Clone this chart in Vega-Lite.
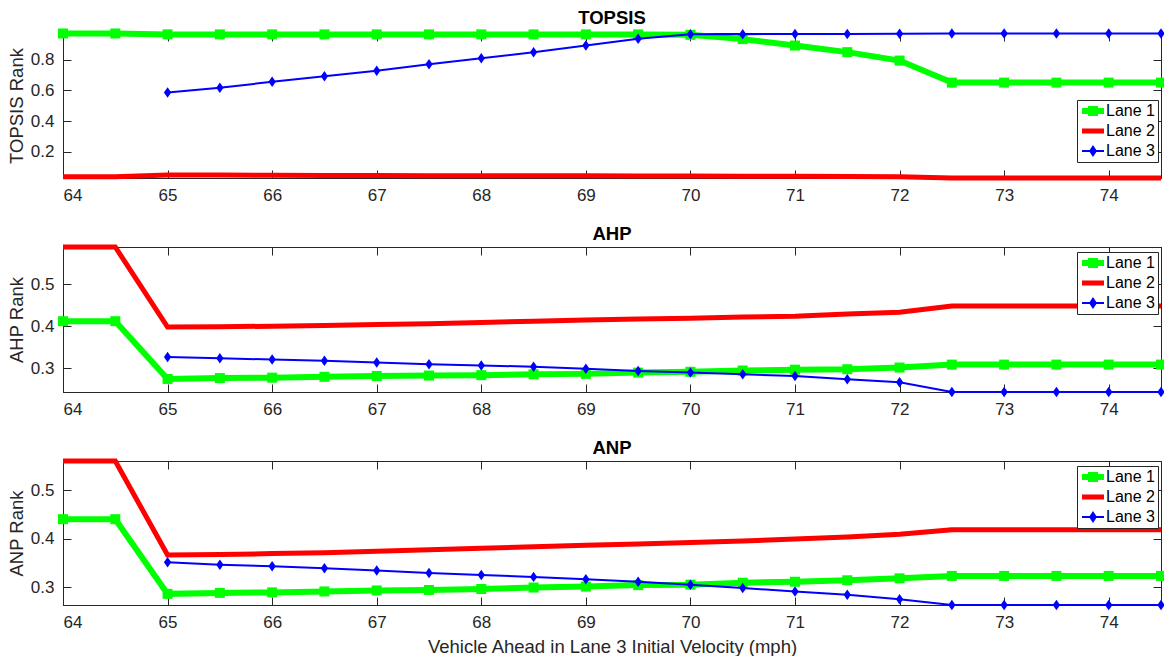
{
  "$schema": "https://vega.github.io/schema/vega-lite/v6.json",
  "background": "white",
  "padding": {"left": 6, "top": 8, "right": 0, "bottom": 0},
  "datasets": {
    "topsis": [
      {"v":64,"lane":"Lane 1","r":0.972},{"v":64.5,"lane":"Lane 1","r":0.972},{"v":65,"lane":"Lane 1","r":0.966},{"v":65.5,"lane":"Lane 1","r":0.966},{"v":66,"lane":"Lane 1","r":0.966},{"v":66.5,"lane":"Lane 1","r":0.966},{"v":67,"lane":"Lane 1","r":0.966},{"v":67.5,"lane":"Lane 1","r":0.966},{"v":68,"lane":"Lane 1","r":0.966},{"v":68.5,"lane":"Lane 1","r":0.966},{"v":69,"lane":"Lane 1","r":0.966},{"v":69.5,"lane":"Lane 1","r":0.966},{"v":70,"lane":"Lane 1","r":0.963},{"v":70.5,"lane":"Lane 1","r":0.935},{"v":71,"lane":"Lane 1","r":0.893},{"v":71.5,"lane":"Lane 1","r":0.85},{"v":72,"lane":"Lane 1","r":0.795},{"v":72.5,"lane":"Lane 1","r":0.651},{"v":73,"lane":"Lane 1","r":0.651},{"v":73.5,"lane":"Lane 1","r":0.651},{"v":74,"lane":"Lane 1","r":0.651},{"v":74.5,"lane":"Lane 1","r":0.651},
      {"v":64,"lane":"Lane 2","r":0.036},{"v":64.5,"lane":"Lane 2","r":0.036},{"v":65,"lane":"Lane 2","r":0.048},{"v":65.5,"lane":"Lane 2","r":0.047},{"v":66,"lane":"Lane 2","r":0.046},{"v":66.5,"lane":"Lane 2","r":0.045},{"v":67,"lane":"Lane 2","r":0.044},{"v":67.5,"lane":"Lane 2","r":0.043},{"v":68,"lane":"Lane 2","r":0.043},{"v":68.5,"lane":"Lane 2","r":0.042},{"v":69,"lane":"Lane 2","r":0.042},{"v":69.5,"lane":"Lane 2","r":0.041},{"v":70,"lane":"Lane 2","r":0.041},{"v":70.5,"lane":"Lane 2","r":0.04},{"v":71,"lane":"Lane 2","r":0.039},{"v":71.5,"lane":"Lane 2","r":0.038},{"v":72,"lane":"Lane 2","r":0.036},{"v":72.5,"lane":"Lane 2","r":0.028},{"v":73,"lane":"Lane 2","r":0.028},{"v":73.5,"lane":"Lane 2","r":0.028},{"v":74,"lane":"Lane 2","r":0.028},{"v":74.5,"lane":"Lane 2","r":0.028},
      {"v":65,"lane":"Lane 3","r":0.586},{"v":65.5,"lane":"Lane 3","r":0.618},{"v":66,"lane":"Lane 3","r":0.656},{"v":66.5,"lane":"Lane 3","r":0.693},{"v":67,"lane":"Lane 3","r":0.729},{"v":67.5,"lane":"Lane 3","r":0.771},{"v":68,"lane":"Lane 3","r":0.81},{"v":68.5,"lane":"Lane 3","r":0.85},{"v":69,"lane":"Lane 3","r":0.893},{"v":69.5,"lane":"Lane 3","r":0.937},{"v":70,"lane":"Lane 3","r":0.967},{"v":70.5,"lane":"Lane 3","r":0.967},{"v":71,"lane":"Lane 3","r":0.969},{"v":71.5,"lane":"Lane 3","r":0.969},{"v":72,"lane":"Lane 3","r":0.97},{"v":72.5,"lane":"Lane 3","r":0.972},{"v":73,"lane":"Lane 3","r":0.972},{"v":73.5,"lane":"Lane 3","r":0.972},{"v":74,"lane":"Lane 3","r":0.972},{"v":74.5,"lane":"Lane 3","r":0.972}
    ],
    "ahp": [
      {"v":64,"lane":"Lane 1","r":0.412},{"v":64.5,"lane":"Lane 1","r":0.412},{"v":65,"lane":"Lane 1","r":0.275},{"v":65.5,"lane":"Lane 1","r":0.277},{"v":66,"lane":"Lane 1","r":0.278},{"v":66.5,"lane":"Lane 1","r":0.28},{"v":67,"lane":"Lane 1","r":0.282},{"v":67.5,"lane":"Lane 1","r":0.283},{"v":68,"lane":"Lane 1","r":0.284},{"v":68.5,"lane":"Lane 1","r":0.286},{"v":69,"lane":"Lane 1","r":0.287},{"v":69.5,"lane":"Lane 1","r":0.29},{"v":70,"lane":"Lane 1","r":0.292},{"v":70.5,"lane":"Lane 1","r":0.295},{"v":71,"lane":"Lane 1","r":0.297},{"v":71.5,"lane":"Lane 1","r":0.298},{"v":72,"lane":"Lane 1","r":0.302},{"v":72.5,"lane":"Lane 1","r":0.309},{"v":73,"lane":"Lane 1","r":0.309},{"v":73.5,"lane":"Lane 1","r":0.309},{"v":74,"lane":"Lane 1","r":0.309},{"v":74.5,"lane":"Lane 1","r":0.309},
      {"v":64,"lane":"Lane 2","r":0.588},{"v":64.5,"lane":"Lane 2","r":0.588},{"v":65,"lane":"Lane 2","r":0.398},{"v":65.5,"lane":"Lane 2","r":0.399},{"v":66,"lane":"Lane 2","r":0.4},{"v":66.5,"lane":"Lane 2","r":0.402},{"v":67,"lane":"Lane 2","r":0.404},{"v":67.5,"lane":"Lane 2","r":0.406},{"v":68,"lane":"Lane 2","r":0.409},{"v":68.5,"lane":"Lane 2","r":0.412},{"v":69,"lane":"Lane 2","r":0.415},{"v":69.5,"lane":"Lane 2","r":0.417},{"v":70,"lane":"Lane 2","r":0.419},{"v":70.5,"lane":"Lane 2","r":0.422},{"v":71,"lane":"Lane 2","r":0.424},{"v":71.5,"lane":"Lane 2","r":0.429},{"v":72,"lane":"Lane 2","r":0.433},{"v":72.5,"lane":"Lane 2","r":0.448},{"v":73,"lane":"Lane 2","r":0.448},{"v":73.5,"lane":"Lane 2","r":0.448},{"v":74,"lane":"Lane 2","r":0.448},{"v":74.5,"lane":"Lane 2","r":0.448},
      {"v":65,"lane":"Lane 3","r":0.327},{"v":65.5,"lane":"Lane 3","r":0.324},{"v":66,"lane":"Lane 3","r":0.321},{"v":66.5,"lane":"Lane 3","r":0.318},{"v":67,"lane":"Lane 3","r":0.314},{"v":67.5,"lane":"Lane 3","r":0.31},{"v":68,"lane":"Lane 3","r":0.307},{"v":68.5,"lane":"Lane 3","r":0.304},{"v":69,"lane":"Lane 3","r":0.299},{"v":69.5,"lane":"Lane 3","r":0.294},{"v":70,"lane":"Lane 3","r":0.29},{"v":70.5,"lane":"Lane 3","r":0.286},{"v":71,"lane":"Lane 3","r":0.282},{"v":71.5,"lane":"Lane 3","r":0.274},{"v":72,"lane":"Lane 3","r":0.267},{"v":72.5,"lane":"Lane 3","r":0.244},{"v":73,"lane":"Lane 3","r":0.244},{"v":73.5,"lane":"Lane 3","r":0.244},{"v":74,"lane":"Lane 3","r":0.244},{"v":74.5,"lane":"Lane 3","r":0.244}
    ],
    "anp": [
      {"v":64,"lane":"Lane 1","r":0.44},{"v":64.5,"lane":"Lane 1","r":0.44},{"v":65,"lane":"Lane 1","r":0.286},{"v":65.5,"lane":"Lane 1","r":0.288},{"v":66,"lane":"Lane 1","r":0.289},{"v":66.5,"lane":"Lane 1","r":0.291},{"v":67,"lane":"Lane 1","r":0.293},{"v":67.5,"lane":"Lane 1","r":0.294},{"v":68,"lane":"Lane 1","r":0.296},{"v":68.5,"lane":"Lane 1","r":0.299},{"v":69,"lane":"Lane 1","r":0.301},{"v":69.5,"lane":"Lane 1","r":0.304},{"v":70,"lane":"Lane 1","r":0.305},{"v":70.5,"lane":"Lane 1","r":0.309},{"v":71,"lane":"Lane 1","r":0.311},{"v":71.5,"lane":"Lane 1","r":0.314},{"v":72,"lane":"Lane 1","r":0.318},{"v":72.5,"lane":"Lane 1","r":0.323},{"v":73,"lane":"Lane 1","r":0.323},{"v":73.5,"lane":"Lane 1","r":0.323},{"v":74,"lane":"Lane 1","r":0.323},{"v":74.5,"lane":"Lane 1","r":0.323},
      {"v":64,"lane":"Lane 2","r":0.56},{"v":64.5,"lane":"Lane 2","r":0.56},{"v":65,"lane":"Lane 2","r":0.366},{"v":65.5,"lane":"Lane 2","r":0.367},{"v":66,"lane":"Lane 2","r":0.369},{"v":66.5,"lane":"Lane 2","r":0.371},{"v":67,"lane":"Lane 2","r":0.374},{"v":67.5,"lane":"Lane 2","r":0.377},{"v":68,"lane":"Lane 2","r":0.38},{"v":68.5,"lane":"Lane 2","r":0.383},{"v":69,"lane":"Lane 2","r":0.386},{"v":69.5,"lane":"Lane 2","r":0.389},{"v":70,"lane":"Lane 2","r":0.392},{"v":70.5,"lane":"Lane 2","r":0.395},{"v":71,"lane":"Lane 2","r":0.399},{"v":71.5,"lane":"Lane 2","r":0.403},{"v":72,"lane":"Lane 2","r":0.409},{"v":72.5,"lane":"Lane 2","r":0.418},{"v":73,"lane":"Lane 2","r":0.418},{"v":73.5,"lane":"Lane 2","r":0.418},{"v":74,"lane":"Lane 2","r":0.418},{"v":74.5,"lane":"Lane 2","r":0.418},
      {"v":65,"lane":"Lane 3","r":0.351},{"v":65.5,"lane":"Lane 3","r":0.346},{"v":66,"lane":"Lane 3","r":0.343},{"v":66.5,"lane":"Lane 3","r":0.339},{"v":67,"lane":"Lane 3","r":0.334},{"v":67.5,"lane":"Lane 3","r":0.329},{"v":68,"lane":"Lane 3","r":0.325},{"v":68.5,"lane":"Lane 3","r":0.321},{"v":69,"lane":"Lane 3","r":0.316},{"v":69.5,"lane":"Lane 3","r":0.311},{"v":70,"lane":"Lane 3","r":0.305},{"v":70.5,"lane":"Lane 3","r":0.298},{"v":71,"lane":"Lane 3","r":0.291},{"v":71.5,"lane":"Lane 3","r":0.284},{"v":72,"lane":"Lane 3","r":0.275},{"v":72.5,"lane":"Lane 3","r":0.263},{"v":73,"lane":"Lane 3","r":0.263},{"v":73.5,"lane":"Lane 3","r":0.263},{"v":74,"lane":"Lane 3","r":0.263},{"v":74.5,"lane":"Lane 3","r":0.263}
    ]
  },
  "spacing": 20,
  "resolve": {"scale": {"color": "independent", "shape": "independent"}, "legend": {"color": "independent", "shape": "independent"}},
  "vconcat": [
    {
      "width": 1098, "height": 145,
      "data": {"name": "topsis"},
      "title": {"text": "TOPSIS"},
      "encoding": {
        "x": {"field": "v", "type": "quantitative", "scale": {"domain": [64, 74.5], "nice": false, "zero": false}, "axis": null},
        "y": {"field": "r", "type": "quantitative", "scale": {"domain": [0.028, 0.975], "nice": false, "zero": false}, "axis": null},
        "color": {"field": "lane", "type": "nominal", "scale": {"domain": ["Lane 1", "Lane 2", "Lane 3"], "range": ["#00FF00", "#FF0000", "#0000FF"]}, "legend": null}
      },
      "layer": [
        {"transform": [{"filter": "datum.v < 0"}], "mark": {"type": "point", "filled": true, "opacity": 1},
         "encoding": {
           "x": {"field": "v", "type": "quantitative", "axis": {"orient": "top", "values": [64,65,66,67,68,69,70,71,72,73,74], "labels": false, "title": null}},
           "y": {"field": "r", "type": "quantitative", "axis": {"orient": "right", "values": [0.2,0.4,0.6,0.8], "labels": false, "title": null}},
           "color": {"field": "lane", "type": "nominal", "legend": {"orient": "none", "legendX": 1014, "legendY": 67}},
           "shape": {"field": "lane", "type": "nominal", "scale": {"domain": ["Lane 1", "Lane 2", "Lane 3"], "range": ["M-1,-0.5L2.667,-0.5L2.667,0.5L-1,0.5Z M0,-0.833L1.667,-0.833L1.667,0.833L0,0.833Z", "M-1,-0.42L2.667,-0.42L2.667,0.42L-1,0.42Z", "M-1,-0.167L2.667,-0.167L2.667,0.167L-1,0.167Z M0.833,-1L1.5,0L0.833,1L0.167,0Z"]}, "legend": {"orient": "none", "legendX": 1014, "legendY": 67}}
         }},
        {"transform": [{"filter": "datum.lane === 'Lane 1'"}], "mark": {"type": "line", "strokeWidth": 6},
         "encoding": {
           "x": {"field": "v", "type": "quantitative", "axis": {"orient": "bottom", "values": [64,65,66,67,68,69,70,71,72,73,74], "format": "d", "title": null}},
           "y": {"field": "r", "type": "quantitative", "axis": {"orient": "left", "values": [0.2,0.4,0.6,0.8], "format": ".1f", "title": "TOPSIS Rank"}}
         }},
        {"transform": [{"filter": "datum.lane === 'Lane 1'"}], "mark": {"type": "point", "shape": "square", "filled": true, "size": 100, "opacity": 1}},
        {"transform": [{"filter": "datum.lane === 'Lane 2'"}], "mark": {"type": "line", "strokeWidth": 5}},
        {"transform": [{"filter": "datum.lane === 'Lane 3'"}], "mark": {"type": "line", "strokeWidth": 2}},
        {"transform": [{"filter": "datum.lane === 'Lane 3'"}], "mark": {"type": "point", "shape": "M0,-1L0.7,0L0,1L-0.7,0Z", "filled": true, "size": 110, "opacity": 1}}
      ],
      "resolve": {"axis": {"x": "independent", "y": "independent"}}
    },
    {
      "width": 1098, "height": 145,
      "data": {"name": "ahp"},
      "title": {"text": "AHP"},
      "encoding": {
        "x": {"field": "v", "type": "quantitative", "scale": {"domain": [64, 74.5], "nice": false, "zero": false}, "axis": null},
        "y": {"field": "r", "type": "quantitative", "scale": {"domain": [0.244, 0.588], "nice": false, "zero": false}, "axis": null},
        "color": {"field": "lane", "type": "nominal", "scale": {"domain": ["Lane 1", "Lane 2", "Lane 3"], "range": ["#00FF00", "#FF0000", "#0000FF"]}, "legend": null}
      },
      "layer": [
        {"transform": [{"filter": "datum.v < 0"}], "mark": {"type": "point", "filled": true, "opacity": 1},
         "encoding": {
           "x": {"field": "v", "type": "quantitative", "axis": {"orient": "top", "values": [64,65,66,67,68,69,70,71,72,73,74], "labels": false, "title": null}},
           "y": {"field": "r", "type": "quantitative", "axis": {"orient": "right", "values": [0.3,0.4,0.5], "labels": false, "title": null}},
           "color": {"field": "lane", "type": "nominal", "legend": {"orient": "none", "legendX": 1014, "legendY": 5}},
           "shape": {"field": "lane", "type": "nominal", "scale": {"domain": ["Lane 1", "Lane 2", "Lane 3"], "range": ["M-1,-0.5L2.667,-0.5L2.667,0.5L-1,0.5Z M0,-0.833L1.667,-0.833L1.667,0.833L0,0.833Z", "M-1,-0.42L2.667,-0.42L2.667,0.42L-1,0.42Z", "M-1,-0.167L2.667,-0.167L2.667,0.167L-1,0.167Z M0.833,-1L1.5,0L0.833,1L0.167,0Z"]}, "legend": {"orient": "none", "legendX": 1014, "legendY": 5}}
         }},
        {"transform": [{"filter": "datum.lane === 'Lane 1'"}], "mark": {"type": "line", "strokeWidth": 6},
         "encoding": {
           "x": {"field": "v", "type": "quantitative", "axis": {"orient": "bottom", "values": [64,65,66,67,68,69,70,71,72,73,74], "format": "d", "title": null}},
           "y": {"field": "r", "type": "quantitative", "axis": {"orient": "left", "values": [0.3,0.4,0.5], "format": ".1f", "title": "AHP Rank"}}
         }},
        {"transform": [{"filter": "datum.lane === 'Lane 1'"}], "mark": {"type": "point", "shape": "square", "filled": true, "size": 100, "opacity": 1}},
        {"transform": [{"filter": "datum.lane === 'Lane 2'"}], "mark": {"type": "line", "strokeWidth": 5}},
        {"transform": [{"filter": "datum.lane === 'Lane 3'"}], "mark": {"type": "line", "strokeWidth": 2}},
        {"transform": [{"filter": "datum.lane === 'Lane 3'"}], "mark": {"type": "point", "shape": "M0,-1L0.7,0L0,1L-0.7,0Z", "filled": true, "size": 110, "opacity": 1}}
      ],
      "resolve": {"axis": {"x": "independent", "y": "independent"}}
    },
    {
      "width": 1098, "height": 144,
      "data": {"name": "anp"},
      "title": {"text": "ANP"},
      "encoding": {
        "x": {"field": "v", "type": "quantitative", "scale": {"domain": [64, 74.5], "nice": false, "zero": false}, "axis": null},
        "y": {"field": "r", "type": "quantitative", "scale": {"domain": [0.263, 0.56], "nice": false, "zero": false}, "axis": null},
        "color": {"field": "lane", "type": "nominal", "scale": {"domain": ["Lane 1", "Lane 2", "Lane 3"], "range": ["#00FF00", "#FF0000", "#0000FF"]}, "legend": null}
      },
      "layer": [
        {"transform": [{"filter": "datum.v < 0"}], "mark": {"type": "point", "filled": true, "opacity": 1},
         "encoding": {
           "x": {"field": "v", "type": "quantitative", "axis": {"orient": "top", "values": [64,65,66,67,68,69,70,71,72,73,74], "labels": false, "title": null}},
           "y": {"field": "r", "type": "quantitative", "axis": {"orient": "right", "values": [0.3,0.4,0.5], "labels": false, "title": null}},
           "color": {"field": "lane", "type": "nominal", "legend": {"orient": "none", "legendX": 1014, "legendY": 5}},
           "shape": {"field": "lane", "type": "nominal", "scale": {"domain": ["Lane 1", "Lane 2", "Lane 3"], "range": ["M-1,-0.5L2.667,-0.5L2.667,0.5L-1,0.5Z M0,-0.833L1.667,-0.833L1.667,0.833L0,0.833Z", "M-1,-0.42L2.667,-0.42L2.667,0.42L-1,0.42Z", "M-1,-0.167L2.667,-0.167L2.667,0.167L-1,0.167Z M0.833,-1L1.5,0L0.833,1L0.167,0Z"]}, "legend": {"orient": "none", "legendX": 1014, "legendY": 5}}
         }},
        {"transform": [{"filter": "datum.lane === 'Lane 1'"}], "mark": {"type": "line", "strokeWidth": 6},
         "encoding": {
           "x": {"field": "v", "type": "quantitative", "axis": {"orient": "bottom", "values": [64,65,66,67,68,69,70,71,72,73,74], "format": "d", "title": "Vehicle Ahead in Lane 3 Initial Velocity (mph)", "titlePadding": 7}},
           "y": {"field": "r", "type": "quantitative", "axis": {"orient": "left", "values": [0.3,0.4,0.5], "format": ".1f", "title": "ANP Rank"}}
         }},
        {"transform": [{"filter": "datum.lane === 'Lane 1'"}], "mark": {"type": "point", "shape": "square", "filled": true, "size": 100, "opacity": 1}},
        {"transform": [{"filter": "datum.lane === 'Lane 2'"}], "mark": {"type": "line", "strokeWidth": 5}},
        {"transform": [{"filter": "datum.lane === 'Lane 3'"}], "mark": {"type": "line", "strokeWidth": 2}},
        {"transform": [{"filter": "datum.lane === 'Lane 3'"}], "mark": {"type": "point", "shape": "M0,-1L0.7,0L0,1L-0.7,0Z", "filled": true, "size": 110, "opacity": 1}}
      ],
      "resolve": {"axis": {"x": "independent", "y": "independent"}}
    }
  ],
  "config": {
    "font": "Liberation Sans",
    "view": {"stroke": "#262626", "strokeWidth": 1},
    "axis": {
      "grid": false, "domainColor": "#262626", "tickColor": "#262626", "labelColor": "#262626",
      "labelFont": "Liberation Sans", "labelFontSize": 17, "tickSize": -8, "labelPadding": 17,
      "titleFont": "Liberation Sans", "titleFontSize": 18.5, "titleFontWeight": "normal", "titleColor": "#262626", "titlePadding": 4
    },
    "title": {"fontSize": 18.5, "fontWeight": "bold", "color": "#000000", "font": "Liberation Sans", "anchor": "middle", "offset": -6},
    "legend": {
      "title": null, "labelFont": "Liberation Sans", "labelFontSize": 16, "labelColor": "#000000",
      "strokeColor": "#262626", "fillColor": "#ffffff", "padding": 3, "symbolSize": 144,
      "symbolStrokeWidth": 0, "labelOffset": 10, "rowPadding": 4, "cornerRadius": 0, "symbolOpacity": 1
    }
  }
}
